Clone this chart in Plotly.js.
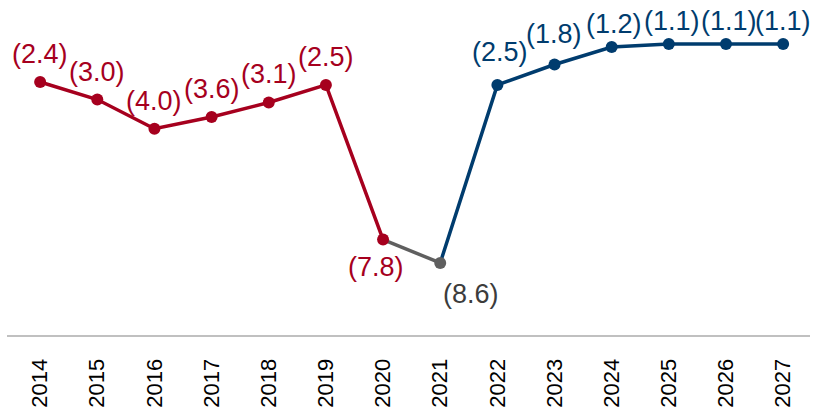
<!DOCTYPE html>
<html>
<head>
<meta charset="utf-8">
<script src="https://cdn.plot.ly/plotly-3.0.1.min.js"></script>
<style>
html,body{margin:0;padding:0;background:#fff;}
#chart{width:817px;height:415px;}
</style>
</head>
<body>
<div id="chart"></div>
<script>
// Data
const years = ['2014','2015','2016','2017','2018','2019','2020','2021','2022','2023','2024','2025','2026','2027'];
const balance = [-2.4,-3.0,-4.0,-3.6,-3.1,-2.5,-7.8,-8.6,-2.5,-1.8,-1.2,-1.1,-1.1,-1.1];
const redYears = years.slice(0,7),  redVals = balance.slice(0,7);
const greyYears = years.slice(6,8), greyVals = balance.slice(6,8);
const blueYears = years.slice(7),   blueVals = balance.slice(7);

const RED = '#a6001e', BLUE = '#003c6e', GREY = '#5f5f5f', GREYTXT = '#3c3c3c';
const FONT = 'Liberation Sans, Arial, sans-serif';

const traces = [
  {x: redYears, y: redVals, type:'scatter', mode:'lines', line:{color:RED,width:3.5}, hoverinfo:'skip'},
  {x: greyYears, y: greyVals, type:'scatter', mode:'lines', line:{color:GREY,width:3.5}, hoverinfo:'skip'},
  {x: blueYears, y: blueVals, type:'scatter', mode:'lines', line:{color:BLUE,width:3.5}, hoverinfo:'skip'},
  {x: redYears, y: redVals, type:'scatter', mode:'markers', marker:{color:RED,size:12}, hoverinfo:'skip'},
  {x: blueYears.slice(1), y: blueVals.slice(1), type:'scatter', mode:'markers', marker:{color:BLUE,size:12}, hoverinfo:'skip'},
  {x: greyYears.slice(1), y: greyVals.slice(1), type:'scatter', mode:'markers', marker:{color:GREY,size:12}, hoverinfo:'skip'}
];

function colorFor(i){ return i <= 6 ? RED : (i === 7 ? GREYTXT : BLUE); }
const offsets = {'2020':[-7,-27], '2021':[31,-31], '2024':[2,23], '2025':[3,23], '2026':[3,23], '2027':[0,23], '2022':[3,33], '2023':[-1,31]};
const annotations = years.map(function(yr,i){
  const o = offsets[yr] || [0,28];
  return {
    x: i, y: balance[i], xref:'x', yref:'y',
    text: '(' + Math.abs(balance[i]).toFixed(1) + ')',
    showarrow:false, xshift:o[0], yshift:o[1],
    xanchor:'center', yanchor:'middle',
    font:{family:FONT, size:27, color:colorFor(i)}
  };
});

const layout = {
  width:817, height:415,
  margin:{l:7, r:7, t:12, b:80, pad:0},
  paper_bgcolor:'#fff', plot_bgcolor:'#fff',
  showlegend:false,
  xaxis:{type:'category', range:[-0.58,13.47], showgrid:false, zeroline:false,
         showline:true, linecolor:'#c0c0c0', linewidth:2, ticks:'',
         tickangle:-90, ticklabelstandoff:13,
         tickfont:{family:FONT, size:22, color:'#000'}},
  yaxis:{range:[-11.07,0], showgrid:false, zeroline:false, showline:false,
         showticklabels:false, ticks:''},
  annotations: annotations
};

Plotly.newPlot('chart', traces, layout, {displayModeBar:false});
</script>
</body>
</html>
